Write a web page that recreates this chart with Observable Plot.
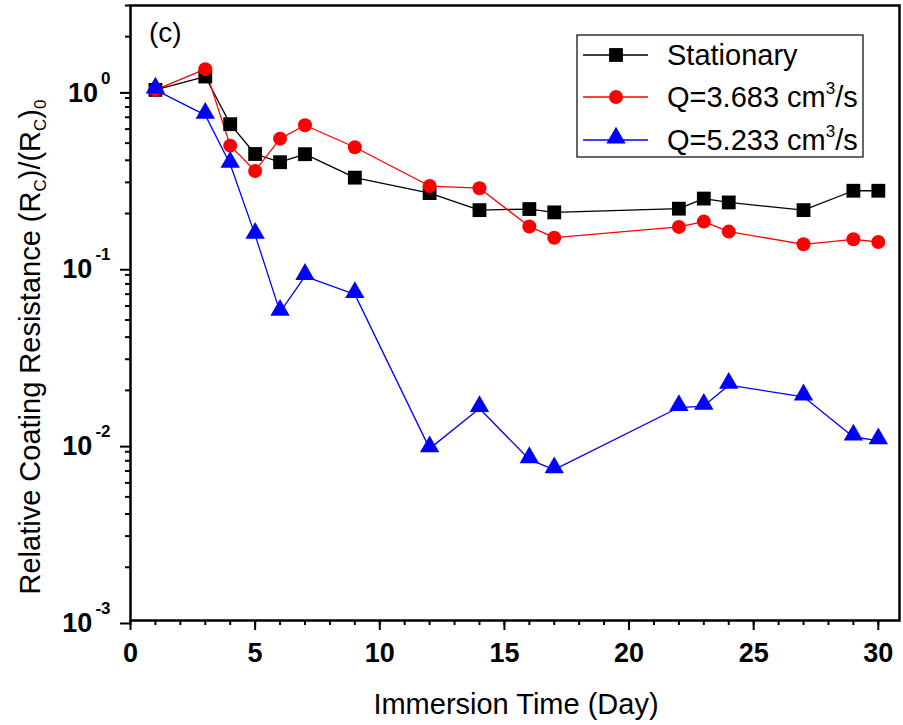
<!DOCTYPE html>
<html><head><meta charset="utf-8">
<script src="https://cdn.jsdelivr.net/npm/d3@7"></script>
<script src="https://cdn.jsdelivr.net/npm/@observablehq/plot@0.6"></script>
<style>body{margin:0;background:#fff}</style>
</head><body><div id="chart"></div>
<script>
// ---- data ----
const days = [1, 3, 4, 5, 6, 7, 9, 12, 14, 16, 17, 22, 23, 24, 27, 29, 30];
const stationary = [1.0, 1.19, 0.64, 0.434, 0.39, 0.433, 0.319, 0.261, 0.209, 0.212, 0.203, 0.213, 0.243, 0.231, 0.209, 0.269, 0.269];
const q3683 = [1.0, 1.31, 0.484, 0.348, 0.530, 0.631, 0.474, 0.286, 0.278, 0.169, 0.146, 0.168, 0.180, 0.158, 0.134, 0.143, 0.138];
const q5233 = [1.0, 0.72, 0.38, 0.151, 0.0554, 0.0883, 0.0698, 0.00937, 0.0158, 0.00813, 0.00713, 0.0160, 0.0163, 0.0214, 0.0184, 0.0109, 0.0104];
const seriesNames = ["Stationary", "Q=3.683 cm3/s", "Q=5.233 cm3/s"];
const seriesColors = ["#000000", "#ff0000", "#0000ff"];
const seriesSymbols = ["square", "circle", "triangle"];
const xTicks = [0, 5, 10, 15, 20, 25, 30];
const xMinorTicks = d3.range(0, 31, 1);
const yTicks = [0.001, 0.01, 0.1, 1];
const yMinorTicks = [0.001, 0.01, 0.1, 1].flatMap(d => [2,3,4,5,6,7,8,9].map(k => k * d)).filter(v => v <= 3);

const allValues = [stationary, q3683, q5233];
const rows = allValues.flatMap((vals, s) => days.map((d, i) => ({day: d, value: vals[i], series: seriesNames[s]})));

const symR = {square: 7.8, circle: 7, triangle: 7.2};

const svg = Plot.plot({
  width: 903,
  height: 725,
  marginLeft: 130,
  marginRight: 4,
  marginTop: 5,
  marginBottom: 105,
  style: {fontFamily: "'Liberation Sans', Arial, sans-serif", color: "black", background: "white"},
  x: {type: "linear", domain: [0, 30.85]},
  y: {type: "log", domain: [0.001, 3]},
  color: {domain: seriesNames, range: seriesColors},
  marks: [
    Plot.line(rows, {x: "day", y: "value", z: "series", stroke: "series", strokeWidth: 1.3}),
    ...seriesNames.map((name, s) =>
      Plot.dot(rows.filter(r => r.series === name), {
        x: "day", y: "value", symbol: seriesSymbols[s], fill: seriesColors[s], stroke: "none",
        r: symR[seriesSymbols[s]], dy: seriesSymbols[s] === "triangle" ? -2 : 0
      })),
    Plot.axisX({ticks: xMinorTicks, tickSize: 5, tickFormat: () => "", strokeWidth: 2, label: null}),
    Plot.axisX({ticks: xTicks, tickSize: 10, tickPadding: 12, tickFormat: d => String(d), strokeWidth: 2,
      fontSize: 27, fontWeight: "bold", label: null}),
    Plot.axisY({ticks: yMinorTicks, tickSize: 5, tickFormat: () => "", strokeWidth: 2, label: null}),
    Plot.axisY({ticks: yTicks, tickSize: 10, tickPadding: 10, strokeWidth: 2,
      tickFormat: d => String(Math.round(Math.log10(d))), fontSize: 27, fontWeight: "bold", dy: 3, label: null}),
    Plot.frame({stroke: "black", strokeWidth: 2.5})
  ]
});

const s = d3.select(svg);
// superscript exponents on y tick labels
s.selectAll('g[aria-label="y-axis tick label"] text').each(function() {
  const e = this.textContent;
  if (!e) return;
  const t = d3.select(this);
  t.text("10");
  t.append("tspan").attr("dx", 3).attr("dy", -18).attr("font-size", 17).text(e);
});

const ff = "'Liberation Sans', Arial, sans-serif";
// y title
const yt = s.append("text").attr("transform", "translate(40,347) rotate(-90)")
  .attr("text-anchor", "middle").attr("font-size", 29).attr("font-family", ff).attr("fill", "black");
yt.append("tspan").text("Relative Coating Resistance (R");
yt.append("tspan").attr("font-size", 17).attr("dy", 6).text("C");
yt.append("tspan").attr("dy", -6).text(")/(R");
yt.append("tspan").attr("font-size", 17).attr("dy", 6).text("C");
yt.append("tspan").attr("dy", -6).text(")");
yt.append("tspan").attr("font-size", 17).attr("dy", 6).text("0");

// x title
s.append("text").attr("x", 516).attr("y", 714).attr("text-anchor", "middle")
  .attr("font-size", 29).attr("font-family", ff).attr("fill", "black").text("Immersion Time (Day)");

// panel label
s.append("text").attr("x", 149).attr("y", 42).attr("text-anchor", "start").attr("font-size", 28)
  .attr("font-family", ff).attr("fill", "black").text("(c)");

// legend
const lg = s.append("g");
lg.append("rect").attr("x", 577).attr("y", 35).attr("width", 286).attr("height", 122)
  .attr("fill", "white").attr("stroke", "black").attr("stroke-width", 1.2);
const rowY = [55, 97, 140];
seriesNames.forEach((name, i) => {
  const y = rowY[i];
  lg.append("line").attr("x1", 583).attr("x2", 648).attr("y1", y).attr("y2", y)
    .attr("stroke", seriesColors[i]).attr("stroke-width", 1.3);
  const sym = seriesSymbols[i];
  const r = symR[sym];
  if (sym === "circle") {
    lg.append("circle").attr("cx", 616).attr("cy", y).attr("r", r).attr("fill", seriesColors[i]);
  } else {
    const type = sym === "square" ? d3.symbolSquare : d3.symbolTriangle;
    lg.append("path").attr("d", d3.symbol(type, r * r * Math.PI)())
      .attr("transform", `translate(616,${y + (sym === "triangle" ? -2 : 0)})`).attr("fill", seriesColors[i]);
  }
  const t = lg.append("text").attr("x", 667).attr("y", y + 10).attr("text-anchor", "start").attr("font-size", 29)
    .attr("font-family", ff).attr("fill", "black");
  const m = name.match(/^(.*cm)3(\/s)$/);
  if (m) {
    t.append("tspan").text(m[1]);
    t.append("tspan").attr("font-size", 17).attr("dy", -13).text("3");
    t.append("tspan").attr("dy", 13).text(m[2]);
  } else {
    t.text(name);
  }
});

document.getElementById("chart").appendChild(svg);
</script>
</body></html>
